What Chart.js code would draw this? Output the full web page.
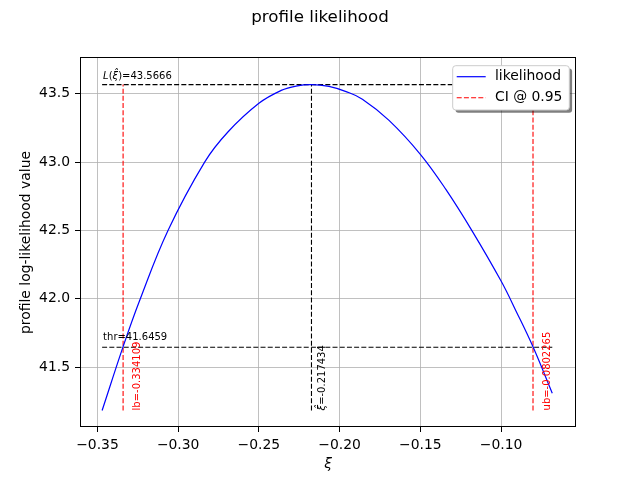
<!DOCTYPE html>
<html>
<head>
<meta charset="utf-8">
<script src="https://cdn.jsdelivr.net/npm/chart.js@4.4.1/dist/chart.umd.min.js"></script>
<style>
  html, body { margin: 0; padding: 0; background: #fff; }
  #wrap { width: 640px; height: 480px; }
</style>
</head>
<body>
<div id="wrap"><canvas id="profileChart" width="640" height="480"></canvas></div>
<script>
/* ================= DATA ================= */

// profile log-likelihood curve
const xiValues = [-0.3471, -0.3341, -0.3238, -0.3063, -0.2836, -0.2692, -0.25, -0.2362, -0.227,
  -0.2174, -0.2066, -0.196, -0.1859, -0.1694, -0.15, -0.1342, -0.1176, -0.10, -0.0907, -0.0803, -0.0683];
const logLikValues = [41.184, 41.651, 41.99, 42.50, 43.00, 43.22, 43.43, 43.524, 43.556,
  43.5666, 43.553, 43.515, 43.46, 43.305, 43.057, 42.80, 42.49, 42.13, 41.91, 41.651, 41.31];

const xTicks = [-0.35, -0.30, -0.25, -0.20, -0.15, -0.10];
const yTicks = [41.5, 42.0, 42.5, 43.0, 43.5];

const lowerBound = -0.334109;
const upperBound = -0.0802265;
const xiHat = -0.217434;
const maxLogLik = 43.5666;
const threshold = 41.6459;

/* ================= HELPERS ================= */

const FONT = '"DejaVu Sans", sans-serif';
const xFirst = xiValues[0];
const xLast = xiValues[xiValues.length - 1];
const yLow = Math.min(...logLikValues);

function vline(x, color) {
  return {
    data: [{ x: x, y: yLow }, { x: x, y: maxLogLik }],
    showLine: true, borderColor: color, borderWidth: 1.1, borderDash: [5, 2.2],
    pointRadius: 0, fill: false, tension: 0
  };
}

function hline(y) {
  return {
    data: [{ x: xFirst, y: y }, { x: xLast, y: y }],
    showLine: true, borderColor: "#000000", borderWidth: 1.1, borderDash: [5, 2.2],
    pointRadius: 0, fill: false, tension: 0
  };
}

// draws text pieces side by side, [text, italic]
function drawRuns(ctx, runs, x, y, size) {
  let cx = x;
  runs.forEach(([txt, italic]) => {
    ctx.font = (italic ? "italic " : "") + size + "px " + FONT;
    ctx.fillText(txt, cx, y);
    cx += ctx.measureText(txt).width;
  });
}

function rotatedRuns(ctx, runs, x, y, size, color) {
  ctx.save();
  ctx.translate(x, y);
  ctx.rotate(-Math.PI / 2);
  ctx.fillStyle = color;
  ctx.textBaseline = "alphabetic";
  ctx.textAlign = "left";
  drawRuns(ctx, runs, 0, 0, size);
  ctx.restore();
}

/* ================= OVERLAY ================= */

const overlay = {
  id: "overlay",
  afterDatasetsDraw(chart) {
    const { ctx, scales: { x, y } } = chart;
    const yStart = y.getPixelForValue(yLow);

    ctx.save();
    ctx.textBaseline = "alphabetic";
    ctx.fillStyle = "#000";
    drawRuns(ctx, [["L", true], ["(", false], ["\u03BE\u0302", true], [")=" + maxLogLik, false]],
      x.getPixelForValue(xFirst) + 1, y.getPixelForValue(maxLogLik) - 6, 10);
    drawRuns(ctx, [["thr=" + threshold, false]],
      x.getPixelForValue(xFirst) + 1, y.getPixelForValue(threshold) - 7, 10);
    ctx.restore();

    rotatedRuns(ctx, [["lb=" + lowerBound, false]], x.getPixelForValue(lowerBound) + 17, yStart, 10, "#ff0000");
    rotatedRuns(ctx, [["\u03BE\u0302", true], ["=" + xiHat, false]], x.getPixelForValue(xiHat) + 13.5, yStart, 10, "#000");
    rotatedRuns(ctx, [["ub=" + upperBound, false]], x.getPixelForValue(upperBound) + 17, yStart, 10, "#ff0000");
  },
  afterDraw(chart) {
    const { ctx, chartArea: a } = chart;
    ctx.save();

    // axes frame
    ctx.strokeStyle = "#000";
    ctx.lineWidth = 1;
    ctx.setLineDash([]);
    ctx.strokeRect(a.left + 0.5, a.top - 0.5, a.right - a.left - 1, a.bottom - a.top);

    // title
    ctx.fillStyle = "#000";
    ctx.textAlign = "center";
    ctx.textBaseline = "alphabetic";
    ctx.font = "16.7px " + FONT;
    ctx.fillText("profile likelihood", 320, 22);

    // axis titles
    ctx.font = "italic 13.9px " + FONT;
    ctx.fillText("\u03BE", (a.left + a.right) / 2, 467.5);
    ctx.save();
    ctx.translate(30.4, (a.top + a.bottom) / 2);
    ctx.rotate(-Math.PI / 2);
    ctx.font = "13.9px " + FONT;
    ctx.fillText("profile log-likelihood value", 0, 0);
    ctx.restore();

    // legend with shadow
    const lx = 452.7, ly = 65.7, lw = 116.6, lh = 44.3;
    ctx.fillStyle = "rgba(0,0,0,0.5)";
    ctx.beginPath();
    ctx.roundRect(lx + 2.8, ly + 2.8, lw, lh, 3);
    ctx.fill();
    ctx.fillStyle = "#ffffff";
    ctx.strokeStyle = "#cccccc";
    ctx.beginPath();
    ctx.roundRect(lx, ly, lw, lh, 3);
    ctx.fill();
    ctx.stroke();

    ctx.lineWidth = 1.2;
    ctx.strokeStyle = "#0000ff";
    ctx.beginPath();
    ctx.moveTo(456.7, 76.7);
    ctx.lineTo(485.7, 76.7);
    ctx.stroke();
    ctx.lineWidth = 1.1;
    ctx.strokeStyle = "#ff0000";
    ctx.setLineDash([5, 2.2]);
    ctx.beginPath();
    ctx.moveTo(456.7, 97.7);
    ctx.lineTo(485.7, 97.7);
    ctx.stroke();
    ctx.setLineDash([]);

    ctx.fillStyle = "#000";
    ctx.textAlign = "left";
    ctx.textBaseline = "middle";
    ctx.font = "13.9px " + FONT;
    ctx.fillText("likelihood", 495, 76.7);
    ctx.fillText("CI @ 0.95", 495, 97.7);

    ctx.restore();
  }
};

/* ================= CHART ================= */

const ctx = document.getElementById("profileChart").getContext("2d");

const profileChart = new Chart(ctx, {
  type: "scatter",
  data: {
    datasets: [
      {
        label: "likelihood",
        data: xiValues.map((v, i) => ({ x: v, y: logLikValues[i] })),
        showLine: true,
        borderColor: "#0000ff",
        borderWidth: 1.2,
        pointRadius: 0,
        tension: 0.4,
        fill: false
      },
      vline(lowerBound, "#ff0000"),
      vline(upperBound, "#ff0000"),
      vline(xiHat, "#000000"),
      hline(maxLogLik),
      hline(threshold)
    ]
  },
  options: {
    responsive: false,
    animation: false,
    devicePixelRatio: 1,
    layout: { padding: { top: 58, right: 64, left: 0, bottom: 0 } },
    plugins: {
      legend: { display: false },
      title: { display: false },
      tooltip: { enabled: false }
    },
    scales: {
      x: {
        type: "linear",
        min: -0.3608,
        max: -0.0536,
        afterBuildTicks: (s) => { s.ticks = xTicks.map((v) => ({ value: v })); },
        afterFit: (s) => { s.height = 53; },
        grid: { color: "#b0b0b0", lineWidth: 0.8, tickColor: "#000", tickLength: 5, tickWidth: 1 },
        border: { display: false },
        ticks: {
          color: "#000",
          padding: 5,
          maxRotation: 0,
          font: { family: FONT, size: 13.9 },
          callback: (v) => v.toFixed(2).replace("-", "\u2212")
        }
      },
      y: {
        type: "linear",
        min: 41.063,
        max: 43.761,
        afterBuildTicks: (s) => { s.ticks = yTicks.map((v) => ({ value: v })); },
        afterFit: (s) => { s.width = 80; },
        grid: { color: "#b0b0b0", lineWidth: 0.8, tickColor: "#000", tickLength: 5, tickWidth: 1 },
        border: { display: false },
        ticks: {
          color: "#000",
          padding: 5,
          font: { family: FONT, size: 13.9 },
          callback: (v) => v.toFixed(1)
        }
      }
    }
  },
  plugins: [overlay]
});
</script>
</body>
</html>
